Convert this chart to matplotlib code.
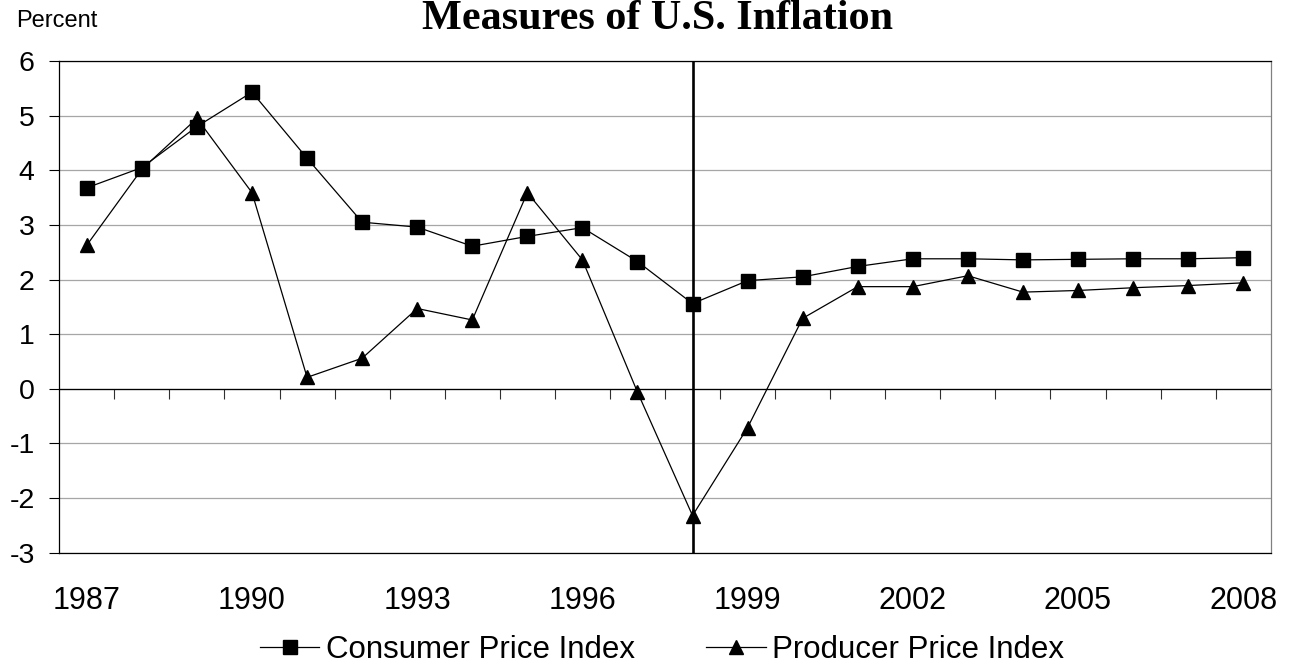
import numpy as np
import matplotlib
matplotlib.use('Agg')
import matplotlib.pyplot as plt

plt.rcParams['font.family'] = ['Liberation Sans', 'DejaVu Sans']
plt.rcParams['axes.unicode_minus'] = False

years = list(range(1987, 2009))
cpi = [3.68, 4.05, 4.80, 5.43, 4.22, 3.05, 2.96, 2.61, 2.79, 2.95, 2.33,
       1.56, 1.98, 2.05, 2.24, 2.38, 2.38, 2.36, 2.37, 2.38, 2.38, 2.40]
ppi = [2.63, 4.02, 4.95, 3.59, 0.21, 0.56, 1.47, 1.26, 3.59, 2.36, -0.06,
       -2.32, -0.71, 1.29, 1.87, 1.87, 2.07, 1.77, 1.80, 1.85, 1.89, 1.94]
label_years = [1987, 1990, 1993, 1996, 1999, 2002, 2005, 2008]
marker_year = 1998

fig = plt.figure(figsize=(12.89, 6.64), dpi=100)
ax = fig.add_axes([0.046, 0.1676, 0.9398, 0.7405])

x = np.arange(len(years))
ax.plot(x, cpi, color='black', lw=0.9, marker='s', ms=9.6, zorder=4,
        label='Consumer Price Index')
ax.plot(x, ppi, color='black', lw=0.9, marker='^', ms=10.5, zorder=4,
        label='Producer Price Index')
ax.axvline(years.index(marker_year), color='black', lw=1.9, zorder=3)

ax.set_xlim(-0.5, len(years) - 0.5)
ax.set_ylim(-3, 6)
ax.set_yticks(range(-3, 7))
ax.tick_params(axis='y', direction='out', length=7.2, width=0.8,
               labelsize=20.5, pad=10.5)
ax.yaxis.grid(True, color='#a6a6a6', lw=0.9)
ax.set_axisbelow(True)

ax.set_xticks([years.index(y) for y in label_years])
ax.set_xticklabels([str(y) for y in label_years])
ax.tick_params(axis='x', length=0, labelsize=22, pad=24)

for s in ['left', 'bottom', 'top']:
    ax.spines[s].set_color('black')
    ax.spines[s].set_linewidth(0.9)
ax.spines['right'].set_color('#808080')
ax.spines['right'].set_linewidth(0.9)

# zero line with category separator ticks
sec = ax.secondary_xaxis(3 / 9)
sec.set_xticks(np.arange(0.5, len(years) - 1, 1))
sec.set_xticklabels([])
sec.tick_params(direction='out', length=7.2, width=0.8, color='#303030')
sec.spines['bottom'].set_linewidth(0.9)
sec.set_zorder(1)

fig.text(0.5097, 1 - 29 / 664, 'Measures of U.S. Inflation', ha='center',
         va='baseline', fontsize=30.3, fontweight='bold',
         family='Liberation Serif')
fig.text(16 / 1289, 1 - 27 / 664, 'Percent', ha='left', va='baseline',
         fontsize=17)

fig.legend(loc='center', bbox_to_anchor=(662 / 1289, 1 - 650 / 664), ncol=2,
           frameon=False, fontsize=22.5, handlelength=1.9, handletextpad=0.2,
           columnspacing=2.3, borderpad=0)

fig.savefig('out.png', dpi=100)
